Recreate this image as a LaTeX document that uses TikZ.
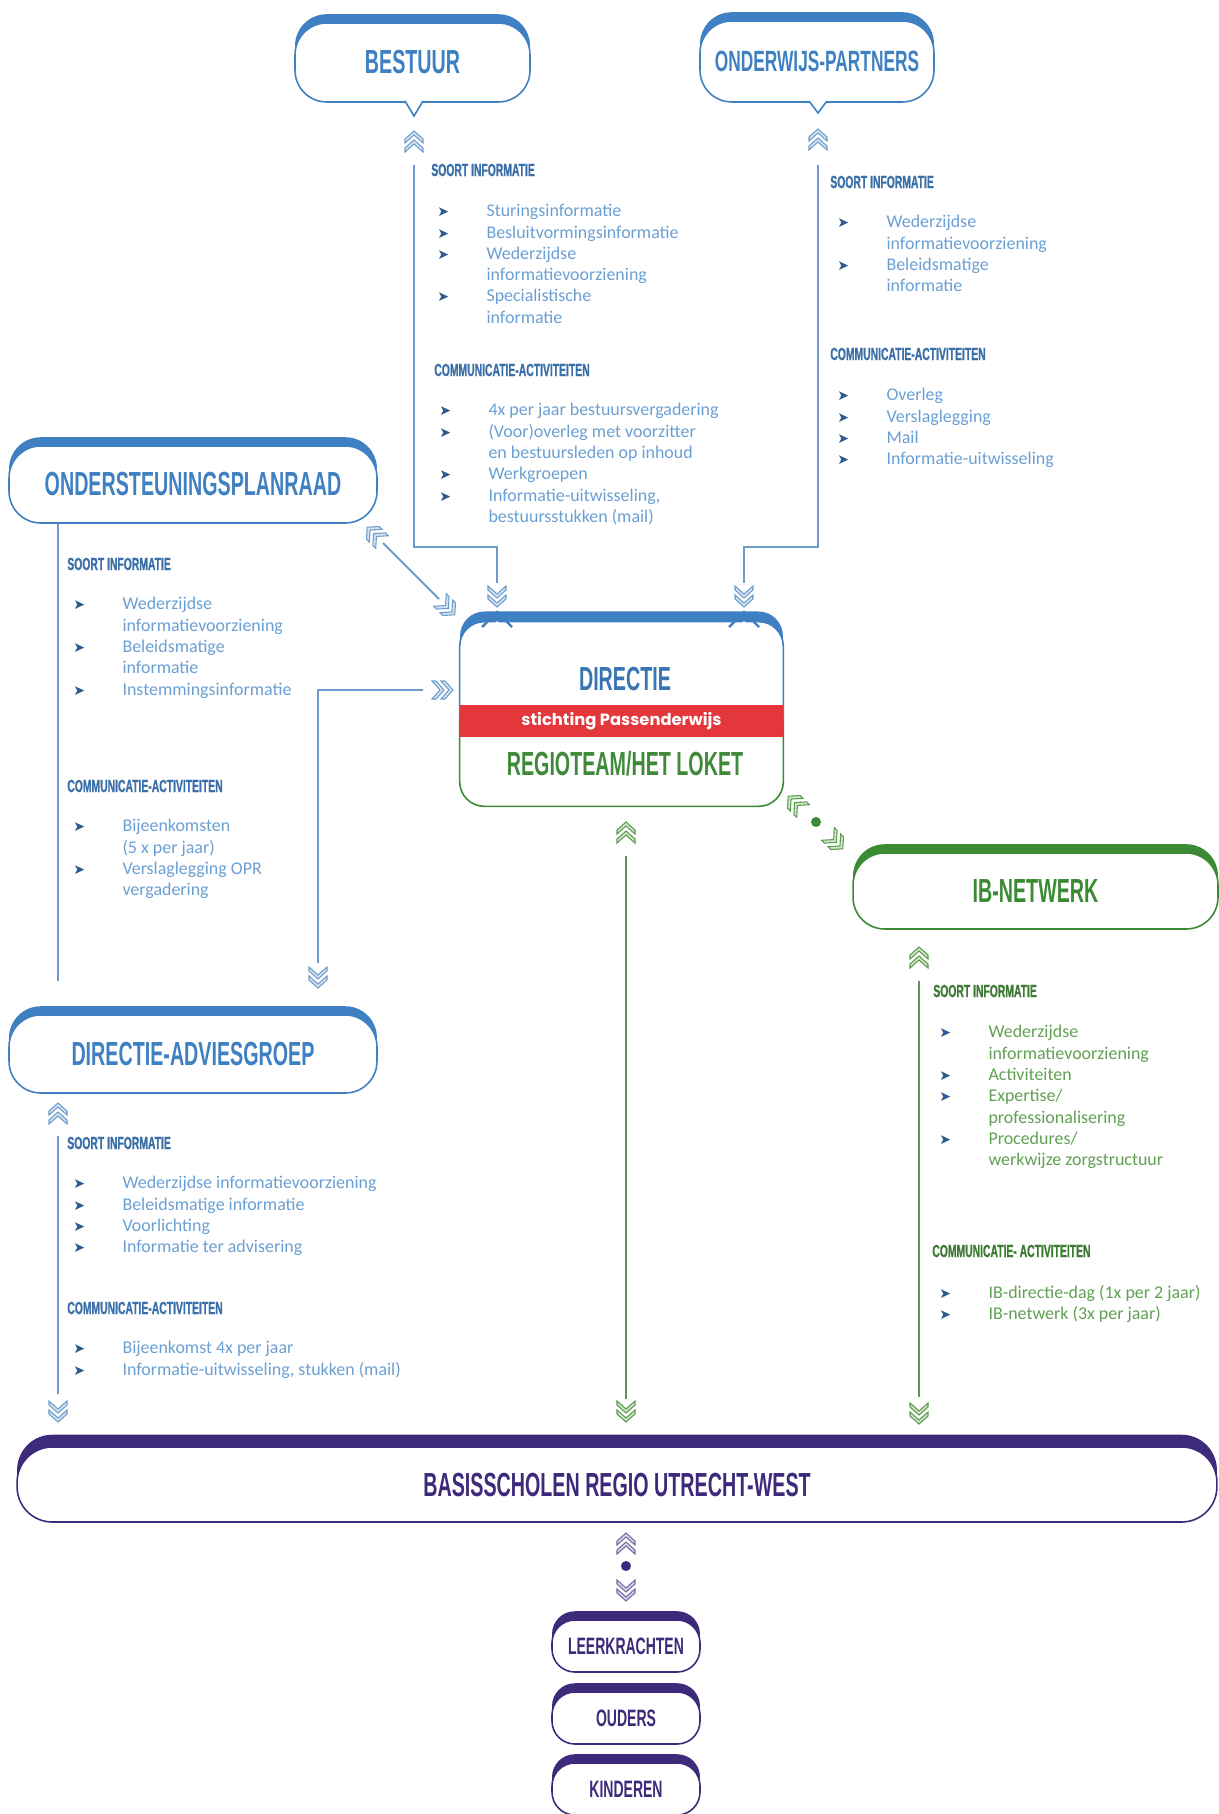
\documentclass[tikz,border=0pt]{standalone}
\usepackage{fontspec}
\setmainfont{Carlito}
\newfontfamily\headfont[FakeStretch=0.59]{Liberation Sans}
\newfontfamily\hdfont[FakeStretch=0.59, FakeBold=0.9]{Liberation Sans}
\newfontfamily\bandfont{Poppins}
\newfontfamily\symfont{DejaVu Sans}

\definecolor{bluebd}{HTML}{3E80C1}
\definecolor{bluetx}{HTML}{3A75B3}
\definecolor{bluehd}{HTML}{3B6FA8}
\definecolor{blueit}{HTML}{6A9FD3}
\definecolor{blueln}{HTML}{6D9BCB}
\definecolor{bluechf}{HTML}{D3E3F2}
\definecolor{bulcol}{HTML}{2D5A8C}
\definecolor{greenbd}{HTML}{3B8A34}
\definecolor{greentx}{HTML}{3F8A38}
\definecolor{greenhd}{HTML}{3D7A33}
\definecolor{greenit}{HTML}{5FA052}
\definecolor{greenln}{HTML}{5A9A4E}
\definecolor{greenchf}{HTML}{D2E6CC}
\definecolor{purplebd}{HTML}{3D2A7A}
\definecolor{purplechf}{HTML}{D9D4E8}
\definecolor{redband}{HTML}{E3373B}

\newcommand{\bul}{\makebox[28pt][l]{\textcolor{bulcol}{\symfont\fontsize{8}{8}\selectfont ➤}}}
\newcommand{\nob}{\hspace*{28pt}}

\tikzset{
  tabbox/.style={draw=#1, text=#1, line width=0.9pt, fill=white, rounded corners=18pt,
    inner sep=0pt, preaction={fill=#1, transform canvas={yshift=5pt}},
    font=\headfont\bfseries\fontsize{19}{22}\selectfont},
  smallbox/.style={tabbox=#1, rounded corners=13pt, minimum width=2.96cm, minimum height=1.04cm,
    font=\headfont\bfseries\fontsize{13.5}{16}\selectfont},
  head/.style={anchor=west, inner sep=0pt, text=#1, font=\hdfont\bfseries\fontsize{10}{12}\selectfont},
  items/.style={anchor=north west, inner sep=0pt, align=left, text=#1,
    font=\fontsize{10.2}{12.13}\selectfont},
  conn/.style={line width=1.2pt},
  bchev/.style={draw=blueln, fill=bluechf, line width=0.6pt},
  gchev/.style={draw=greenln, fill=greenchf, line width=0.6pt},
  pchev/.style={draw=purplebd!70, fill=purplechf, line width=0.6pt},
  dot/.style={circle, fill=#1, inner sep=0pt, minimum size=0.2cm},
  chevs/.pic={
    \filldraw (0,-11) -- (9,-3) -- (9,1) -- (0,-7) -- (-9,1) -- (-9,-3) -- cycle
              (0,-2) -- (9,6) -- (9,10) -- (0,2) -- (-9,10) -- (-9,6) -- cycle;
  },
}

\begin{document}
\begin{tikzpicture}[x=0.02cm, y=-0.02cm]
\useasboundingbox (0,0) rectangle (1219,1814);

% boxes
\node [tabbox=bluebd, minimum width=4.7cm, minimum height=1.58cm] (bestuur) at (412.5,62.5) {BESTUUR};
\node [tabbox=bluebd, minimum width=4.68cm, minimum height=1.62cm,
  font=\headfont\bfseries\fontsize{16.7}{20}\selectfont] (partners) at (817,61.5) {ONDERWIJS-PARTNERS};
\node [tabbox=bluebd, minimum width=7.36cm, minimum height=1.54cm] (opr) at (193,484.5) {ONDERSTEUNINGSPLANRAAD};
\node [tabbox=bluebd, minimum width=7.36cm, minimum height=1.56cm] (dag) at (193,1054) {DIRECTIE-ADVIESGROEP};
\node [tabbox=greenbd, minimum width=7.3cm, minimum height=1.52cm] (ib) at (1035.5,891) {IB-NETWERK};
\node [tabbox=purplebd, rounded corners=20pt, preaction={fill=purplebd, transform canvas={yshift=7pt}},
  minimum width=24cm, minimum height=1.5cm] (bas) at (617,1484.5) {BASISSCHOLEN REGIO UTRECHT-WEST};
\node [smallbox=purplebd] (leer) at (626,1646) {LEERKRACHTEN};
\node [smallbox=purplebd] (ouders) at (626,1718) {OUDERS};
\node [smallbox=purplebd] (kind) at (626,1789) {KINDEREN};

% speech tails
\fill [white] (405,100) -- (414,116) -- (423,100) -- cycle;
\draw [bluebd, line width=0.9pt] (405,101) -- (414,116) -- (423,101);
\fill [white] (809,100) -- (818,113) -- (827,100) -- cycle;
\draw [bluebd, line width=0.9pt] (809,101) -- (818,113) -- (827,101);

% directie
\node [fill=white, rounded corners=14pt, minimum width=6.46cm, minimum height=3.68cm,
  preaction={fill=bluebd, transform canvas={yshift=6pt}}] (dir) at (621.5,714) {};
\begin{scope}
\clip (440,600) rectangle (800,721);
\draw [bluebd, line width=0.9pt, rounded corners=14pt] (dir.north west) rectangle (dir.south east);
\end{scope}
\begin{scope}
\clip (440,721) rectangle (800,830);
\draw [greenbd, line width=0.9pt, rounded corners=14pt] (dir.north west) rectangle (dir.south east);
\end{scope}
\fill [white] (484,636) -- (497,621) -- (510,636) -- cycle;
\draw [bluebd, line width=1.4pt] (482,627) -- (497,612) -- (512,627);
\fill [white] (731,636) -- (744,621) -- (757,636) -- cycle;
\draw [bluebd, line width=1.4pt] (729,627) -- (744,612) -- (759,627);
\node [fill=redband, text=white, minimum width=6.46cm, minimum height=0.64cm, inner sep=0pt,
  font=\bandfont\bfseries\fontsize{9.3}{11}\selectfont] (stichting) at (621.5,721) {stichting Passenderwijs};
\node [text=bluetx, font=\headfont\bfseries\fontsize{19}{22}\selectfont] (dirtxt) at (625,679) {DIRECTIE};
\node [text=greentx, font=\headfont\bfseries\fontsize{19}{22}\selectfont] (regio) at (625,764) {REGIOTEAM/HET LOKET};

% bestuur
\node [head=bluehd] (bsSoort) at (431,170) {SOORT INFORMATIE};
\node [items=blueit] (bsSoortL) at (437,204) {\bul Sturingsinformatie\\ \bul Besluitvormingsinformatie\\
  \bul Wederzijdse\\ \nob informatievoorziening\\ \bul Specialistische\\ \nob informatie};
\node [head=bluehd] (bsComm) at (434,370) {COMMUNICATIE-ACTIVITEITEN};
\node [items=blueit] (bsCommL) at (439,403) {\bul 4x per jaar bestuursvergadering\\
  \bul (Voor)overleg met voorzitter\\ \nob en bestuursleden op inhoud\\ \bul Werkgroepen\\
  \bul Informatie-uitwisseling,\\ \nob bestuursstukken (mail)};

% onderwijs-partners
\node [head=bluehd] (opSoort) at (830,182) {SOORT INFORMATIE};
\node [items=blueit] (opSoortL) at (837,215) {\bul Wederzijdse\\ \nob informatievoorziening\\
  \bul Beleidsmatige\\ \nob informatie};
\node [head=bluehd] (opComm) at (830,354) {COMMUNICATIE-ACTIVITEITEN};
\node [items=blueit] (opCommL) at (837,388) {\bul Overleg\\ \bul Verslaglegging\\ \bul Mail\\
  \bul Informatie-uitwisseling};

% ondersteuningsplanraad
\node [head=bluehd] (oprSoort) at (67,564) {SOORT INFORMATIE};
\node [items=blueit] (oprSoortL) at (73,597) {\bul Wederzijdse\\ \nob informatievoorziening\\
  \bul Beleidsmatige\\ \nob informatie\\ \bul Instemmingsinformatie};
\node [head=bluehd] (oprComm) at (67,786) {COMMUNICATIE-ACTIVITEITEN};
\node [items=blueit] (oprCommL) at (73,819) {\bul Bijeenkomsten\\ \nob (5 x per jaar)\\
  \bul Verslaglegging OPR\\ \nob vergadering};

% ib-netwerk
\node [head=greenhd] (ibSoort) at (933,991) {SOORT INFORMATIE};
\node [items=greenit] (ibSoortL) at (939,1025) {\bul Wederzijdse\\ \nob informatievoorziening\\
  \bul Activiteiten\\ \bul Expertise/\\ \nob professionalisering\\ \bul Procedures/\\
  \nob werkwijze zorgstructuur};
\node [head=greenhd] (ibComm) at (932,1251) {COMMUNICATIE- ACTIVITEITEN};
\node [items=greenit] (ibCommL) at (939,1285) {\bul IB-directie-dag (1x per 2 jaar)\\
  \bul IB-netwerk (3x per jaar)};

% directie-adviesgroep
\node [head=bluehd] (dagSoort) at (67,1143) {SOORT INFORMATIE};
\node [items=blueit] (dagSoortL) at (73,1176) {\bul Wederzijdse informatievoorziening\\
  \bul Beleidsmatige informatie\\ \bul Voorlichting\\ \bul Informatie ter advisering};
\node [head=bluehd] (dagComm) at (67,1308) {COMMUNICATIE-ACTIVITEITEN};
\node [items=blueit] (dagCommL) at (73,1341) {\bul Bijeenkomst 4x per jaar\\
  \bul Informatie-uitwisseling, stukken (mail)};

% connectors
\coordinate (bsTop) at (414,165);
\coordinate (bsKnee) at (414,547);
\coordinate (bsEnd) at (497,583);
\draw [conn, blueln] (bsTop) -- (bsKnee) -| (bsEnd);
\pic [bchev] at (414,142) {chevs};
\pic [bchev, rotate=180] at (497,596) {chevs};

\coordinate (opTop) at (818,165);
\coordinate (opKnee) at (818,547);
\coordinate (opEnd) at (744,583);
\draw [conn, blueln] (opTop) -- (opKnee) -| (opEnd);
\pic [bchev] at (818,140) {chevs};
\pic [bchev, rotate=180] at (744,596) {chevs};

\coordinate (oprDiagA) at (383,543);
\coordinate (oprDiagB) at (439,599);
\draw [conn, blueln] (oprDiagA) -- (oprDiagB);
\pic [bchev, rotate=45] at (375,535) {chevs};
\pic [bchev, rotate=-135] at (447,607) {chevs};

\coordinate (dagLinkA) at (423,690);
\coordinate (dagLinkB) at (318,963);
\draw [conn, blueln] (dagLinkA) -| (dagLinkB);
\pic [bchev, rotate=-90] at (442,690) {chevs};
\pic [bchev, rotate=180] at (318,977) {chevs};

\coordinate (oprLine) at (58,981);
\draw [conn, blueln] (oprLine |- opr.south) -- (oprLine);

\coordinate (dagTop) at (58,1136);
\coordinate (dagEnd) at (58,1394);
\draw [conn, blueln] (dagTop) -- (dagEnd);
\pic [bchev] at (58,1114) {chevs};
\pic [bchev, rotate=180] at (58,1411) {chevs};

\coordinate (dirTop) at (626,856);
\coordinate (dirEnd) at (626,1399);
\draw [conn, greenln] (dirTop) -- (dirEnd);
\pic [gchev] at (626,833) {chevs};
\pic [gchev, rotate=180] at (626,1411) {chevs};

\coordinate (ibTop) at (919,981);
\coordinate (ibEnd) at (919,1397);
\draw [conn, greenln] (ibTop) -- (ibEnd);
\pic [gchev] at (919,958) {chevs};
\pic [gchev, rotate=180] at (919,1413) {chevs};

\pic [gchev, rotate=45] at (796,804) {chevs};
\node [dot=greenbd] (ibDot) at (816,822) {};
\pic [gchev, rotate=-135] at (835,841) {chevs};

\pic [pchev] at (626,1544) {chevs};
\node [dot=purplebd] (basDot) at (626,1566) {};
\pic [pchev, rotate=180] at (626,1590) {chevs};

\end{tikzpicture}
\end{document}
